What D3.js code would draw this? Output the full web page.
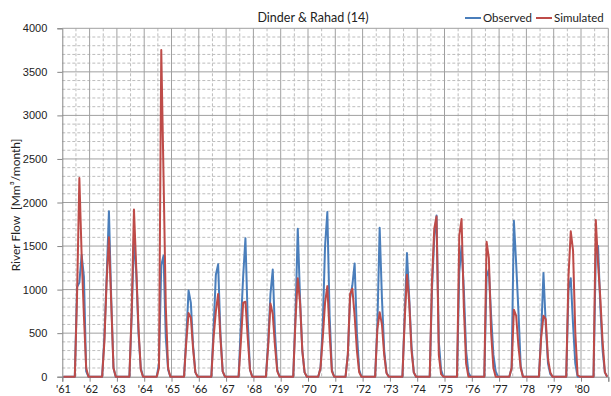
<!DOCTYPE html>
<html>
<head>
<meta charset="utf-8">
<script src="https://cdn.jsdelivr.net/npm/d3@7"></script>
<style>
    body { margin: 0; background: #fff; }
    svg { font-family: Lato, "Open Sans", sans-serif; }
</style>
</head>
<body>
<svg id="plot" width="611" height="396"></svg>
<script>
// year labels, one per 12 months
const years = ["'61","'62","'63","'64","'65","'66","'67","'68","'69","'70",
               "'71","'72","'73","'74","'75","'76","'77","'78","'79","'80"];

// monthly flows [Mm3/month], Jan..Dec for each year
const observed = [
    0,0,0,0,0,0,1030,1080,1400,1150,60,0,
    0,0,0,0,0,0,450,1150,1900,900,100,0,
    0,0,0,0,0,0,700,1600,1200,500,100,0,
    0,0,0,0,0,0,150,1280,1390,450,80,0,
    0,0,0,0,0,0,450,990,850,350,50,0,
    0,0,0,0,0,0,550,1170,1290,500,60,0,
    0,0,0,0,0,0,600,1150,1590,650,80,0,
    0,0,0,0,0,0,400,950,1230,500,80,0,
    0,0,0,0,0,0,700,1700,900,300,50,0,
    0,0,0,0,0,100,600,1500,1890,700,80,0,
    0,0,0,0,0,250,900,1050,1300,500,80,0,
    0,0,0,0,0,0,600,1710,900,300,50,0,
    0,0,0,0,0,0,700,1420,900,350,50,0,
    0,0,0,0,0,0,1000,1600,1850,400,80,0,
    0,0,0,0,0,0,1200,1500,1000,300,50,0,
    0,0,0,0,0,0,1150,1230,700,250,60,0,
    0,0,0,0,0,100,1790,1300,750,120,0,0,
    0,0,0,0,0,0,500,1190,600,150,30,0,
    0,0,0,0,0,0,1000,1130,600,150,0,0,
    0,0,0,0,0,0,1400,1500,800,300,50,0
];

const simulated = [
    0,0,0,0,0,0,950,2280,1400,700,100,0,
    0,0,0,0,0,0,400,1100,1600,850,100,0,
    0,0,0,0,0,0,750,1920,1250,550,80,0,
    0,0,0,0,0,0,100,3750,2300,800,100,0,
    0,0,0,0,0,0,400,730,680,320,50,0,
    0,0,0,0,0,0,450,750,950,450,60,0,
    0,0,0,0,0,0,400,850,860,450,80,0,
    0,0,0,0,0,0,350,840,720,350,60,0,
    0,0,0,0,0,0,650,1130,850,300,50,0,
    0,0,0,0,0,100,450,850,1040,500,60,0,
    0,0,0,0,0,250,950,1010,700,300,50,0,
    0,0,0,0,0,0,550,740,600,250,40,0,
    0,0,0,0,0,0,650,1170,850,300,50,0,
    0,0,0,0,0,0,1100,1700,1840,250,30,0,
    0,0,0,0,0,0,1620,1810,800,150,0,0,
    0,0,0,0,0,0,1550,1360,500,100,0,0,
    0,0,0,0,0,100,770,700,350,100,0,0,
    0,0,0,0,0,0,450,700,660,200,50,0,
    0,0,0,0,0,0,1150,1670,1450,500,20,0,
    0,0,0,0,0,0,1800,1300,900,400,50,0
];

const yTicks = [0, 500, 1000, 1500, 2000, 2500, 3000, 3500, 4000];

const plot = d3.select("svg#plot");
const pLeft = 62.3, pRight = 608.3, pTop = 28.3, pBottom = 376.7;

let x = d3.scaleLinear().domain([0, observed.length]).range([pLeft, pRight]);
let y = d3.scaleLinear().domain([0, 4000]).range([pBottom, pTop]);

// gridlines
let grid = plot.append("g").attr("id", "grid");
grid.selectAll("line.hMinor")
    .data(d3.range(100, 4001, 100).filter(v => v % 500 != 0))
    .join("line")
    .attr("x1", pLeft).attr("x2", pRight)
    .attr("y1", d => y(d)).attr("y2", d => y(d))
    .style("stroke", "#bdbdbd")
    .style("stroke-dasharray", "3,2");
grid.selectAll("line.vMinor")
    .data(d3.range(6, observed.length, 12))
    .join("line")
    .attr("x1", d => x(d)).attr("x2", d => x(d))
    .attr("y1", pTop).attr("y2", pBottom)
    .style("stroke", "#bdbdbd")
    .style("stroke-dasharray", "3,2");
grid.selectAll("line.hMajor")
    .data(yTicks.slice(1))
    .join("line")
    .attr("x1", pLeft).attr("x2", pRight)
    .attr("y1", d => y(d)).attr("y2", d => y(d))
    .style("stroke", "#a0a0a0");
grid.selectAll("line.vMajor")
    .data(d3.range(12, observed.length + 1, 12))
    .join("line")
    .attr("x1", d => x(d)).attr("x2", d => x(d))
    .attr("y1", pTop).attr("y2", pBottom)
    .style("stroke", "#a0a0a0");

// axes
let yAxis = d3.axisLeft(y).tickValues(yTicks).tickSize(5).tickPadding(10)
    .tickFormat(d3.format("d"));
let yG = plot.append("g")
    .attr("transform", "translate(" + pLeft + ",0)")
    .call(yAxis);
let xAxis = d3.axisBottom(x).tickValues(d3.range(0, observed.length + 1, 12))
    .tickSize(5).tickFormat("");
let xG = plot.append("g")
    .attr("transform", "translate(0," + pBottom + ")")
    .call(xAxis);
[yG, xG].forEach(g => {
    g.select(".domain").style("stroke", "#868686");
    g.selectAll(".tick line").style("stroke", "#868686");
});
yG.selectAll("text").style("font-size", "11px").style("fill", "#222");

plot.append("g").selectAll("text")
    .data(years)
    .join("text")
    .attr("x", (d, i) => x(i * 12 + 0.5))
    .attr("y", 393)
    .style("text-anchor", "middle")
    .style("font-size", "11px")
    .style("fill", "#222")
    .text(d => d);

// series
let line = d3.line()
    .x((d, i) => x(i + 0.5))
    .y(d => y(d));
plot.append("path")
    .attr("d", line(observed))
    .style("fill", "none")
    .style("stroke", "#4a7ebb")
    .style("stroke-width", 2)
    .style("stroke-linejoin", "round");
plot.append("path")
    .attr("d", line(simulated))
    .style("fill", "none")
    .style("stroke", "#be4b48")
    .style("stroke-width", 2)
    .style("stroke-linejoin", "round");

// title, axis label
plot.append("text")
    .attr("x", 313)
    .attr("y", 22)
    .style("text-anchor", "middle")
    .style("font-size", "12.5px")
    .style("fill", "#222")
    .text("Dinder & Rahad (14)");

plot.append("text")
    .attr("transform", "translate(20,205) rotate(-90)")
    .style("text-anchor", "middle")
    .style("font-size", "12px")
    .style("fill", "#222")
    .text("River Flow\u00a0\u00a0[Mm\u00b3/month]");

// legend
let legend = plot.append("g").attr("transform", "translate(465,18)");
[["Observed", "#4a7ebb", 0], ["Simulated", "#be4b48", 71]].forEach(l => {
    legend.append("line")
        .attr("x1", l[2]).attr("x2", l[2] + 16)
        .attr("y1", 0).attr("y2", 0)
        .style("stroke", l[1])
        .style("stroke-width", 2);
    legend.append("text")
        .attr("x", l[2] + 18)
        .attr("y", 4)
        .style("font-size", "11.5px")
        .style("fill", "#222")
        .text(l[0]);
});
</script>
</body>
</html>
